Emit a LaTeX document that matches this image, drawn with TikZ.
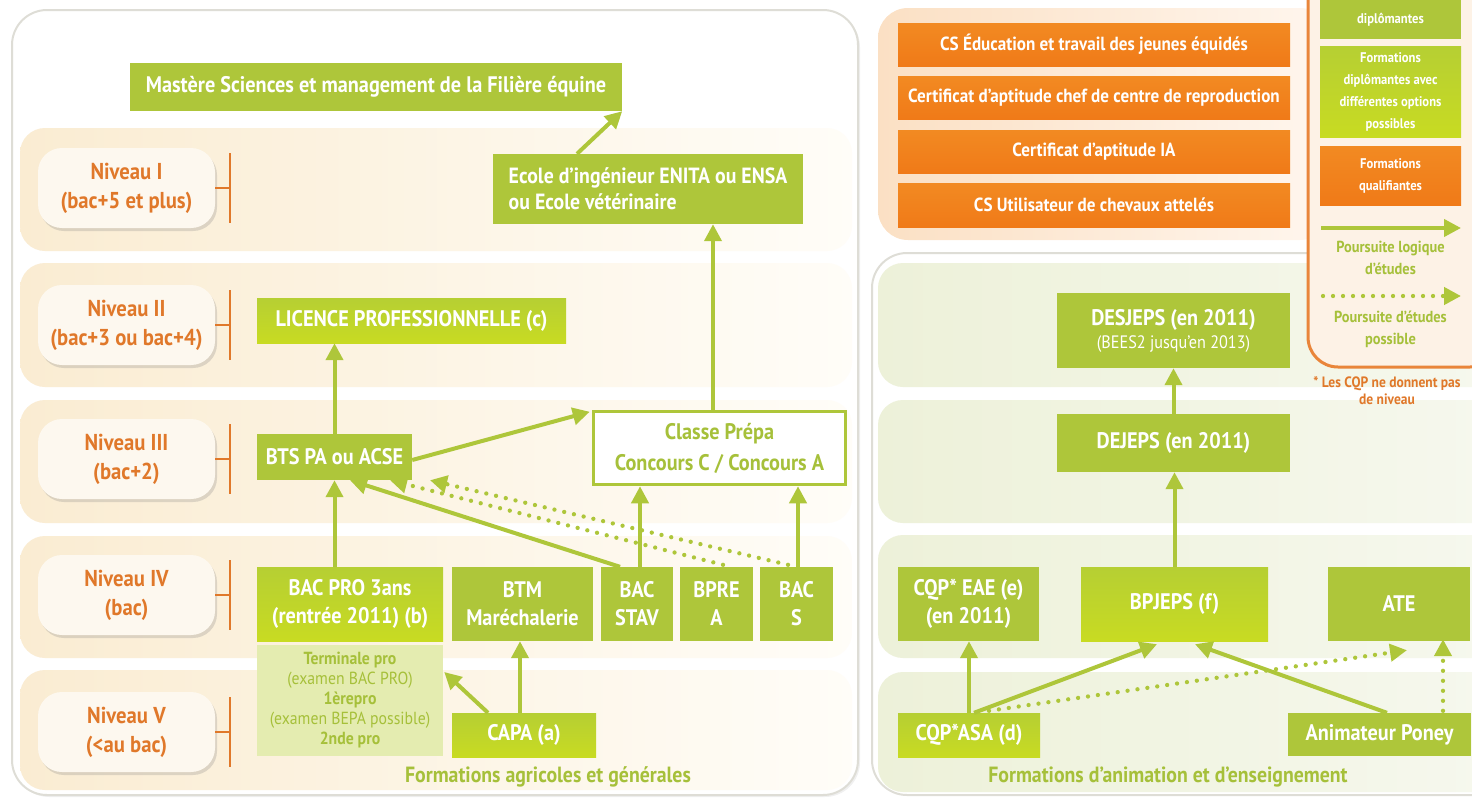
\documentclass[tikz,border=0pt]{standalone}
\usepackage{fontspec}
\setmainfont{PT Sans}[FakeStretch=0.9]
\usetikzlibrary{arrows.meta,shadows}
\definecolor{gmain}{HTML}{AEC63A}
\definecolor{limeT}{HTML}{B6CF33}
\definecolor{limeB}{HTML}{C8DB22}
\definecolor{orT}{HTML}{F28A22}
\definecolor{orB}{HTML}{F07A18}
\definecolor{gtext}{HTML}{A6C03A}
\definecolor{otext}{HTML}{E0782A}
\definecolor{oborder}{HTML}{E9853A}
\definecolor{pillfill}{HTML}{FDF8EF}
\definecolor{bandL}{HTML}{FAECD2}
\definecolor{bandR}{HTML}{FFFDF8}
\definecolor{gbandL}{HTML}{EDF1D9}
\definecolor{gbandR}{HTML}{F6F8EE}
\definecolor{panelgray}{HTML}{DEDDD6}
\definecolor{opanelL}{HTML}{FBE0C4}
\definecolor{opanelR}{HTML}{FFF6EE}
\definecolor{legfill}{HTML}{FDF2E6}
\definecolor{subfill}{HTML}{E4ECB0}
\tikzset{
  box/.style={fill=gmain, text=white, font=\bfseries\fontsize{22.5}{28}\selectfont, align=center, inner sep=0pt},
  limebox/.style={box, top color=limeT, bottom color=limeB},
  obox/.style={box, top color=orT, bottom color=orB, font=\bfseries\fontsize{19}{24}\selectfont},
  legbox/.style={box, font=\bfseries\fontsize{14}{22}\selectfont, minimum width=141pt},
  pill/.style={rounded corners=24pt, fill=pillfill, text=otext, font=\bfseries\fontsize{23}{29}\selectfont, align=center, minimum width=177pt, minimum height=80pt, inner sep=0pt, drop shadow={opacity=0.25, shadow xshift=2pt, shadow yshift=-3pt}},
  brk/.style={draw=otext, line width=2pt},
  arr/.style={draw=gmain, line width=4pt, -{Triangle[width=17pt,length=17pt]}},
  dotarr/.style={draw=gmain, line width=4.3pt, line cap=round, dash pattern=on 0pt off 10pt, -{Triangle[width=17pt,length=17pt]}},
  foot/.style={text=gtext, font=\bfseries\fontsize{22}{26}\selectfont},
  legtext/.style={text=gtext, font=\bfseries\fontsize{16}{22}\selectfont, align=center},
}
\begin{document}
\begin{tikzpicture}[x=1pt,y=-1pt]
\useasboundingbox (0,0) rectangle (1472,798);
\begin{scope}
\clip (0,0) rectangle (1472,798);
% ===== left panel =====
\draw[draw=panelgray, line width=2pt, fill=white, rounded corners=35pt, drop shadow={opacity=0.12, shadow xshift=2pt, shadow yshift=-2pt}] (12,10) rectangle (858,795);
\foreach \a/\b in {128/251, 263/387, 400/523, 536/658, 670/790}{
  \shade[left color=bandL, right color=bandR, rounded corners=25pt] (20,\a) rectangle (852,\b);
}
% ===== right bottom panel =====
\draw[draw=panelgray, line width=2pt, fill=white, rounded corners=35pt] (872,253) rectangle (1510,795);
\foreach \a/\b in {263/387, 400/523, 535/658, 672/792}{
  \shade[left color=gbandL, right color=gbandR, rounded corners=25pt] (878,\a) rectangle (1500,\b);
}
% ===== orange top panel =====
\shade[left color=opanelL, right color=opanelR, rounded corners=30pt] (878,8) rectangle (1330,240);

% ===== level pills =====
\node[pill] (n1) at (126.5,188) {Niveau I\\(bac+5 et plus)};
\node[pill] (n2) at (126.5,325) {Niveau II\\(bac+3 ou bac+4)};
\node[pill] (n3) at (126.5,459) {Niveau III\\(bac+2)};
\node[pill] (n4) at (126.5,595) {Niveau IV\\(bac)};
\node[pill] (n5) at (126.5,732) {Niveau V\\(<au bac)};
\foreach \n in {n1,n2,n3,n4,n5}{
  \coordinate (\n t) at ([xshift=15pt]\n.east);
  \draw[brk] (\n.east) -- (\n t);
  \draw[brk] ([yshift=35pt]\n t) -- ([yshift=-35pt]\n t);
}

% ===== left boxes =====
\node[box, minimum width=492pt, minimum height=48pt] (mastere) at (376,87) {Mastère Sciences et management de la Filière équine};
\node[box, minimum width=310pt, minimum height=70pt, align=left, font=\bfseries\fontsize{22}{26}\selectfont] (ecole) at (648,189) {Ecole d’ingénieur ENITA ou ENSA\\ou Ecole vétérinaire};
\node[limebox, minimum width=309pt, minimum height=45pt] (licence) at (411.5,320.5) {LICENCE PROFESSIONNELLE (c)};
\node[box, minimum width=155pt, minimum height=46pt] (bts) at (334.5,457) {BTS PA ou ACSE};
\node[box, fill=white, draw=gmain, line width=3.5pt, text=gtext, minimum width=252pt, minimum height=73pt, font=\bfseries\fontsize{22.5}{31}\selectfont] (prepa) at (719.5,448) {Classe Prépa\\Concours C / Concours A};
\node[limebox, minimum width=186pt, minimum height=74pt] (bacpro) at (350,604) {BAC PRO 3ans\\(rentrée 2011) (b)};
\node[box, fill=subfill, text=gtext, minimum width=186pt, minimum height=111pt, font=\fontsize{17.5}{20}\selectfont] (sub) at (350,700.5) {\textbf{Terminale pro}\\(examen BAC PRO)\\\textbf{1èrepro}\\(examen BEPA possible)\\\textbf{2nde pro}};
\node[box, minimum width=141pt, minimum height=74pt] (btm) at (522.5,604) {BTM\\Maréchalerie};
\node[box, minimum width=72pt, minimum height=74pt] (stav) at (637,604) {BAC\\STAV};
\node[box, minimum width=73pt, minimum height=74pt] (bpre) at (716.5,604) {BPRE\\A};
\node[box, minimum width=73pt, minimum height=74pt] (bacs) at (796.5,604) {BAC\\S};
\node[limebox, minimum width=144pt, minimum height=44pt] (capa) at (524,735) {CAPA (a)};
\node[foot] (footL) at (548,777) {Formations agricoles et générales};

% ===== left arrows =====
\draw[arr] ([xshift=-71pt]ecole.north) -- (mastere.south east);
\draw[arr] ([xshift=-6.5pt]prepa.north) -- ([xshift=-6.5pt]prepa.north |- ecole.south);
\draw[arr] (bts.north) -- (bts.north |- licence.south);
\draw[arr] ([yshift=-3pt]bts.east) -- ([xshift=-2pt,yshift=-2pt]prepa.north west);
\draw[arr] (bts.south |- bacpro.north) -- (bts.south);
\draw[arr] ([xshift=-17pt]stav.north) -- ([xshift=15.5pt]bts.south);
\draw[arr] ([xshift=3pt]stav.north) -- ([xshift=3pt]stav.north |- prepa.south);
\draw[arr] ([xshift=1.5pt]bacs.north) -- ([xshift=1.5pt]bacs.north |- prepa.south);
\draw[dotarr] ([xshift=6.5pt,yshift=2pt]bpre.north) -- ([xshift=55.5pt]bts.south);
\draw[dotarr] ([xshift=-8.5pt,yshift=2pt]bacs.north) -- ([xshift=95.5pt]bts.south);
\draw[arr] ([xshift=-4pt]capa.north) -- ([xshift=-4pt]capa.north |- btm.south);
\draw[arr] ([xshift=-36pt]capa.north) -- ([xshift=1pt,yshift=28.5pt]sub.east);

% ===== orange boxes =====
\node[obox, minimum width=392pt, minimum height=43pt] (o1) at (1094,44.5) {CS Éducation et travail des jeunes équidés};
\node[obox, minimum width=392pt, minimum height=43pt] (o2) at (1094,97.5) {Certificat d’aptitude chef de centre de reproduction};
\node[obox, minimum width=392pt, minimum height=43pt] (o3) at (1094,151.5) {Certificat d’aptitude IA};
\node[obox, minimum width=392pt, minimum height=44pt] (o4) at (1094,205) {CS Utilisateur de chevaux attelés};

% ===== right boxes =====
\node[box, minimum width=233pt, minimum height=75pt, font=\bfseries\fontsize{22.5}{23}\selectfont] (desjeps) at (1173.5,330.5) {DESJEPS (en 2011)\\{\mdseries\fontsize{18}{20}\selectfont (BEES2 jusqu’en 2013)}};
\node[box, minimum width=233pt, minimum height=58pt] (dejeps) at (1173.5,443) {DEJEPS (en 2011)};
\node[box, minimum width=141pt, minimum height=74pt] (eae) at (968.5,604) {CQP* EAE (e)\\(en 2011)};
\node[limebox, minimum width=187pt, minimum height=74pt] (bpjeps) at (1174.5,604) {BPJEPS (f)};
\node[box, minimum width=142pt, minimum height=74pt] (ate) at (1399,604) {ATE};
\node[limebox, minimum width=142pt, minimum height=44pt] (asa) at (969,735) {CQP*ASA (d)};
\node[box, minimum width=183pt, minimum height=43pt] (poney) at (1379.5,734.5) {Animateur Poney};
\node[foot] (footR) at (1168,777) {Formations d’animation et d’enseignement};

% ===== right arrows =====
\draw[arr] (dejeps.north) -- (desjeps.south);
\draw[arr] (bpjeps.north) -- (bpjeps.north |- dejeps.south);
\draw[arr] (asa.north) -- (asa.north |- eae.south);
\draw[dotarr] ([xshift=20pt,yshift=2pt]asa.north) -- ([xshift=8pt,yshift=-9pt]ate.south);
\draw[arr] ([xshift=5pt]asa.north) -- ([xshift=-17.5pt,yshift=-3pt]bpjeps.south);
\draw[arr] ([xshift=7.5pt]poney.north) -- ([xshift=20.5pt,yshift=-3pt]bpjeps.south);
\draw[dotarr] ([xshift=63.5pt,yshift=2pt]poney.north) -- ([xshift=63.5pt,yshift=2pt]poney.north |- ate.south);

% ===== legend =====
\draw[draw=oborder, line width=3pt, fill=legfill, rounded corners=30pt] (1308,-40) rectangle (1500,367);
\node[legbox, minimum height=39pt] (l1) at (1390.5,19.5) {diplômantes};
\node[legbox, top color=limeT, bottom color=limeB, minimum height=91pt] (l2) at (1390.5,91.5) {Formations\\diplômantes avec\\différentes options\\possibles};
\node[legbox, top color=orT, bottom color=orB, minimum height=59pt] (l3) at (1390.5,175.5) {Formations\\qualifiantes};
\coordinate (la1) at (1321,228);
\coordinate (la2) at (1461,228);
\draw[arr] (la1) -- (la2);
\node[legtext] (lt1) at (1390.5,257.5) {Poursuite logique\\d’études};
\coordinate (lb1) at (1323,296);
\coordinate (lb2) at (1461,296);
\draw[dotarr] (lb1) -- (lb2);
\node[legtext] (lt2) at (1390.5,329) {Poursuite d’études\\possible};
\node[legtext, text=otext, font=\bfseries\fontsize{15}{17}\selectfont] (cqp) at (1387,391) {* Les CQP ne donnent pas\\de niveau};
\end{scope}
\end{tikzpicture}
\end{document}
